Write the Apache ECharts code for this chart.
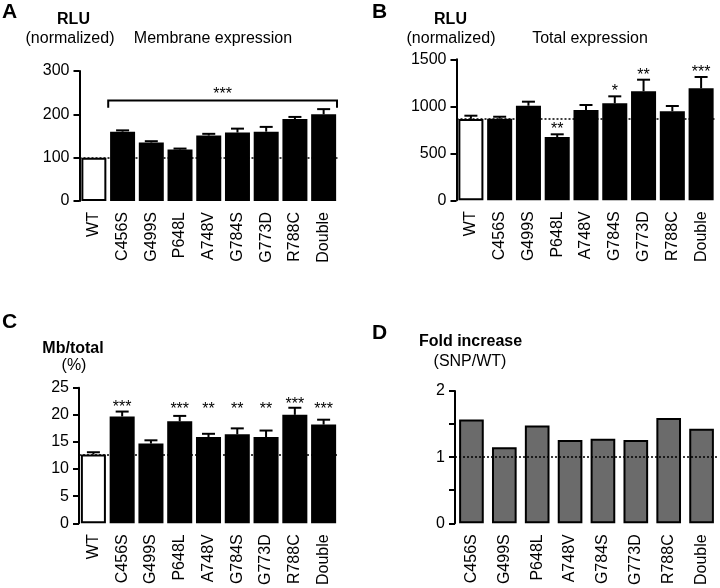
<!DOCTYPE html>
<html>
<head>
<meta charset="utf-8">
<script src="https://cdn.jsdelivr.net/npm/echarts@6/dist/echarts.min.js"></script>
<style>html,body{margin:0;padding:0;background:#fff}#c{width:720px;height:588px}</style>
</head>
<body>
<div id="c"></div>
<script>
const categories = ['WT','C456S','G499S','P648L','A748V','G784S','G773D','R788C','Double'];
const membraneMean = [100,160,135,119,151,158,160,189,200];
const membraneSem  = [0,3,3,2,4,9,11,5,12];
const membraneBracketStars = '***';
const totalMean = [866,868,1006,673,961,1032,1160,947,1191];
const totalSem  = [34,21,43,29,53,74,123,56,121];
const totalStars = ['','','','**','','*','**','','***'];
const ratioMean = [12.7,19.7,14.7,18.8,15.9,16.4,15.9,20.0,18.2];
const ratioSem  = [0.4,0.9,0.6,1.0,0.6,1.1,1.2,1.3,0.9];
const ratioStars = ['','***','','***','**','**','**','***','***'];
const foldCategories = ['C456S','G499S','P648L','A748V','G784S','G773D','R788C','Double'];
const foldIncrease = [1.57,1.15,1.48,1.26,1.28,1.26,1.59,1.43];

const FONT = '"Liberation Sans", Arial, sans-serif';
const chart = echarts.init(document.getElementById('c'), null, {renderer:'canvas'});

function yAxisCfg(gi, min, max, interval, fmt){
  return {
    type:'value', gridIndex:gi, min:min, max:max, interval:interval,
    axisLine:{show:true, lineStyle:{color:'#000', width:2}},
    axisTick:{show:true, length:6, lineStyle:{color:'#000', width:2}},
    splitLine:{show:false},
    axisLabel:{color:'#000', fontSize:16, fontFamily:FONT, margin:10, formatter: fmt || (v => String(v))}
  };
}
function xAxisCfg(gi, cats){
  return {
    type:'category', gridIndex:gi, data:cats,
    axisLine:{show:false}, axisTick:{show:false},
    axisLabel:{color:'#000', fontSize:16, fontFamily:FONT, rotate:90, margin:11, interval:0}
  };
}
function barData(mean){
  return mean.map((v,i)=> i===0 ? {value:v, itemStyle:{color:'#fff', borderColor:'#000', borderWidth:2}} : v);
}
function refLine(v){
  return {silent:true, symbol:'none', label:{show:false},
    lineStyle:{color:'#000', type:[2,2], width:1.5}, data:[{yAxis:v}]};
}
function errSeries(gi, mean, sem, stars, opt){
  return {
    type:'custom', xAxisIndex:gi, yAxisIndex:gi, z:5,
    encode:{x:0, y:1},
    data: mean.map((m,i)=>[i, m, sem[i]]),
    renderItem: function(params, api){
      const i = api.value(0), m = api.value(1), e = api.value(2);
      const st = stars ? stars[i] : '';
      const p0 = api.coord([i, m]);
      const p1 = api.coord([i, m+e]);
      const children = [];
      if (e > 0){
        children.push({type:'line', shape:{x1:p0[0], y1:p0[1], x2:p1[0], y2:p1[1]}, style:{stroke:'#000', lineWidth:2}});
        children.push({type:'line', shape:{x1:p1[0]-6.5, y1:p1[1], x2:p1[0]+6.5, y2:p1[1]}, style:{stroke:'#000', lineWidth:2}});
      }
      if (st){
        let y = p1[1] - opt.gap;
        if (opt.level !== undefined) y = Math.min(y, api.coord([i, opt.level])[1]);
        children.push({type:'text', style:{text:st, x:p1[0], y:y+3.5, textAlign:'center', textVerticalAlign:'middle', font:'16px ' + FONT, fill:'#000'}});
      }
      return {type:'group', children:children};
    }
  };
}

const option = {
  animation:false,
  backgroundColor:'#fff',
  grid:[
    {left:79.5, top:71, width:258.5, height:130},
    {left:456.5, top:59.3, width:259, height:141},
    {left:79, top:387.7, width:259, height:138.8},
    {left:455, top:391, width:263, height:136}
  ],
  xAxis:[xAxisCfg(0, categories), xAxisCfg(1, categories), xAxisCfg(2, categories), xAxisCfg(3, foldCategories)],
  yAxis:[
    yAxisCfg(0, 0, 300, 100),
    yAxisCfg(1, 0, 1500, 500),
    yAxisCfg(2, 0, 25, 5),
    yAxisCfg(3, 0, 2, 0.5, v => (Math.abs(v - Math.round(v)) < 1e-6 ? String(Math.round(v)) : ''))
  ],
  series:[
    {type:'bar', xAxisIndex:0, yAxisIndex:0, data:barData(membraneMean), barCategoryGap:'13%',
     itemStyle:{color:'#000'}, markLine:refLine(membraneMean[0])},
    errSeries(0, membraneMean, membraneSem, null, {gap:8}),
    {type:'custom', xAxisIndex:0, yAxisIndex:0, z:6, encode:{x:0, y:1},
     data:[[1, 232, 8, 215]],
     renderItem:function(params, api){
       const a = api.value(0), lvl = api.value(1), b = api.value(2), low = api.value(3);
       const bw = api.size([1, 0])[0];
       const pa = api.coord([a, lvl]), pb = api.coord([b, lvl]);
       const pl = api.coord([a, low]);
       const xa = pa[0] - bw/2, xb = pb[0] + bw/2 - 1;
       return {type:'group', children:[
         {type:'polyline', shape:{points:[[xa, pl[1]], [xa, pa[1]], [xb, pa[1]], [xb, pl[1]]]}, style:{stroke:'#000', lineWidth:2, fill:null}},
         {type:'text', style:{text:membraneBracketStars, x:(xa+xb)/2, y:pa[1]-9+3.5, textAlign:'center', textVerticalAlign:'middle', font:'16px ' + FONT, fill:'#000'}}
       ]};
     }},
    {type:'bar', xAxisIndex:1, yAxisIndex:1, data:barData(totalMean), barCategoryGap:'13%',
     itemStyle:{color:'#000'}, markLine:refLine(totalMean[0])},
    errSeries(1, totalMean, totalSem, totalStars, {gap:8}),
    {type:'bar', xAxisIndex:2, yAxisIndex:2, data:barData(ratioMean), barCategoryGap:'13%',
     itemStyle:{color:'#000'}, markLine:refLine(ratioMean[0])},
    errSeries(2, ratioMean, ratioSem, ratioStars, {gap:7, level:21.6}),
    {type:'bar', xAxisIndex:3, yAxisIndex:3, data:foldIncrease, barCategoryGap:'25%',
     itemStyle:{color:'#6b6b6b', borderColor:'#000', borderWidth:2}, markLine:refLine(1)}
  ],
  graphic:[
    {type:'text', left:2, top:2, style:{text:'A', font:'bold 21px ' + FONT, fill:'#000'}},
    {type:'text', x:73.5, y:20, style:{text:'RLU', font:'bold 16px ' + FONT, fill:'#000', textAlign:'center', textVerticalAlign:'middle'}},
    {type:'text', x:70, y:39, style:{text:'(normalized)', font:'16px ' + FONT, fill:'#000', textAlign:'center', textVerticalAlign:'middle'}},
    {type:'text', x:213, y:39, style:{text:'Membrane expression', font:'16px ' + FONT, fill:'#000', textAlign:'center', textVerticalAlign:'middle'}},
    {type:'text', left:372, top:2, style:{text:'B', font:'bold 21px ' + FONT, fill:'#000'}},
    {type:'text', x:450.5, y:20, style:{text:'RLU', font:'bold 16px ' + FONT, fill:'#000', textAlign:'center', textVerticalAlign:'middle'}},
    {type:'text', x:451, y:39, style:{text:'(normalized)', font:'16px ' + FONT, fill:'#000', textAlign:'center', textVerticalAlign:'middle'}},
    {type:'text', x:590, y:39, style:{text:'Total expression', font:'16px ' + FONT, fill:'#000', textAlign:'center', textVerticalAlign:'middle'}},
    {type:'text', left:2, top:312, style:{text:'C', font:'bold 21px ' + FONT, fill:'#000'}},
    {type:'text', x:73, y:349, style:{text:'Mb/total', font:'bold 16px ' + FONT, fill:'#000', textAlign:'center', textVerticalAlign:'middle'}},
    {type:'text', x:74, y:366, style:{text:'(%)', font:'16px ' + FONT, fill:'#000', textAlign:'center', textVerticalAlign:'middle'}},
    {type:'text', left:372, top:323, style:{text:'D', font:'bold 21px ' + FONT, fill:'#000'}},
    {type:'text', x:470.5, y:342, style:{text:'Fold increase', font:'bold 16px ' + FONT, fill:'#000', textAlign:'center', textVerticalAlign:'middle'}},
    {type:'text', x:470, y:362, style:{text:'(SNP/WT)', font:'16px ' + FONT, fill:'#000', textAlign:'center', textVerticalAlign:'middle'}}
  ]
};
chart.setOption(option);
</script>
</body>
</html>
